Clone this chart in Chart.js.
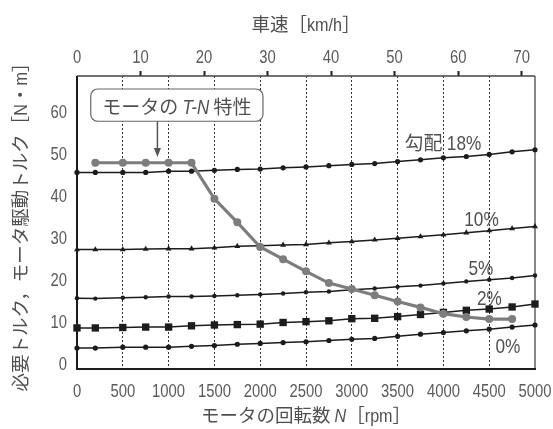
<!DOCTYPE html>
<html>
<head>
<meta charset="utf-8">
<script src="https://cdn.jsdelivr.net/npm/chart.js@4.4.0/dist/chart.umd.min.js"></script>
<style>
 html, body { margin: 0; padding: 0; background: #fff; }
</style>
</head>
<body>
<canvas id="torqueChart" width="553" height="429"></canvas>
<script>
'use strict';

// motor speed [rpm] where the road-load curves are sampled
var rpm = [0, 200, 500, 750, 1000, 1250, 1500, 1750, 2000, 2250, 2500,
           2750, 3000, 3250, 3500, 3750, 4000, 4250, 4500, 4750, 5000];

// required torque [N·m] for each road gradient
var grade18 = [45.4, 45.4, 45.4, 45.4, 45.7, 45.7, 45.9, 46.1, 46.2, 46.5, 46.7,
               47.0, 47.3, 47.5, 48.0, 48.4, 48.9, 49.2, 49.7, 50.3, 50.8];
var grade10 = [27.0, 27.0, 27.0, 27.1, 27.2, 27.2, 27.4, 27.8, 27.9, 28.1, 28.2,
               28.6, 28.9, 29.3, 29.7, 30.1, 30.5, 31.0, 31.5, 32.0, 32.5];
var grade5  = [15.4, 15.3, 15.5, 15.6, 15.8, 15.8, 15.9, 16.1, 16.3, 16.5, 16.8,
               17.0, 17.4, 17.7, 18.1, 18.4, 18.9, 19.4, 19.8, 20.2, 20.8];
var grade2  = [8.3, 8.3, 8.4, 8.5, 8.5, 8.8, 9.0, 9.1, 9.2, 9.6, 9.8,
               10.0, 10.5, 10.6, 11.0, 11.5, 12.0, 12.5, 12.8, 13.3, 14.0];
var grade0  = [3.5, 3.5, 3.7, 3.7, 3.7, 3.9, 4.1, 4.4, 4.6, 4.8, 5.0,
               5.3, 5.6, 5.8, 6.3, 6.8, 7.2, 7.6, 8.0, 8.5, 9.0];

// motor T-N characteristic
var motorRpm    = [200, 500, 750, 1000, 1250, 1500, 1750, 2000, 2250, 2500,
                   2750, 3000, 3250, 3500, 3750, 4000, 4250, 4500, 4750];
var motorTorque = [47.7, 47.7, 47.7, 47.7, 47.7, 39.1, 33.5, 27.6, 24.7, 21.8,
                   19.0, 17.6, 16.1, 14.6, 13.2, 11.7, 10.9, 10.4, 10.4];

// tick labels
var rpmTicks    = [0, 500, 1000, 1500, 2000, 2500, 3000, 3500, 4000, 4500, 5000];
var speedTicks  = [0, 10, 20, 30, 40, 50, 60, 70];
var torqueTicks = [0, 10, 20, 30, 40, 50, 60];

var gradeNames = ['18%', '10%', '5%', '2%', '0%'];

var JP = "'Noto Sans CJK JP', sans-serif";
var LAT = "'Liberation Sans', Arial, sans-serif";
var NARROW = 0.78;          // horizontal squeeze for the condensed digits
var INK = '#1c1c1c';
var TEXT = '#505050';

function pts(xs, ys) {
  return xs.map(function (x, i) { return {x: x, y: ys[i]}; });
}

function gradeSet(values, style, radius) {
  return {
    data: pts(rpm, values),
    borderColor: INK,
    backgroundColor: INK,
    borderWidth: 1.5,
    pointStyle: style,
    pointRadius: radius,
    pointBorderWidth: 0,
    tension: 0,
    clip: false
  };
}

// runs: [text, font, xscale]; align 'center' or 'right'
function drawRuns(ctx, runs, x0, baseline, align) {
  var total = 0;
  runs.forEach(function (r) {
    ctx.font = r[1];
    r.w = ctx.measureText(r[0]).width * (r[2] || 1);
    total += r.w;
  });
  var x = align === 'right' ? x0 - total : x0 - total / 2;
  ctx.textAlign = 'left';
  ctx.textBaseline = 'alphabetic';
  runs.forEach(function (r) {
    ctx.save();
    ctx.translate(x, baseline);
    ctx.scale(r[2] || 1, 1);
    ctx.font = r[1];
    ctx.fillText(r[0], 0, 0);
    ctx.restore();
    x += r.w;
  });
}

var decorations = {
  id: 'decorations',
  beforeDatasetsDraw: function (chart) {
    var ctx = chart.ctx, a = chart.chartArea;
    ctx.save();
    ctx.strokeStyle = '#888';
    ctx.lineWidth = 2;
    ctx.beginPath(); ctx.moveTo(a.right, a.top); ctx.lineTo(a.right, a.bottom); ctx.stroke();
    ctx.strokeStyle = '#444';
    ctx.lineWidth = 1.5;
    ctx.beginPath(); ctx.moveTo(a.left, a.top); ctx.lineTo(a.right, a.top); ctx.stroke();
    ctx.strokeStyle = INK;
    ctx.lineWidth = 2;
    ctx.beginPath();
    ctx.moveTo(a.left, a.top); ctx.lineTo(a.left, a.bottom); ctx.lineTo(a.right + 1, a.bottom);
    ctx.stroke();
    ctx.restore();
  },
  afterDraw: function (chart) {
    var ctx = chart.ctx, a = chart.chartArea;
    var xs = chart.scales.x, ys = chart.scales.y, sp = chart.scales.speed;
    var cx = (a.left + a.right) / 2;
    var tf = '19px ' + LAT;
    ctx.save();
    ctx.fillStyle = '#5a5a5a';

    // tick labels, condensed
    xs.ticks.forEach(function (t) {
      drawRuns(ctx, [[String(t.value), tf, NARROW]], xs.getPixelForValue(t.value), a.bottom + 27.5);
    });
    sp.ticks.forEach(function (t) {
      drawRuns(ctx, [[String(t.value), tf, NARROW]], sp.getPixelForValue(t.value), a.top - 13);
    });
    ys.ticks.forEach(function (t) {
      drawRuns(ctx, [[String(t.value), tf, NARROW]], a.left - 10, ys.getPixelForValue(t.value) + 7, 'right');
    });

    // axis titles
    ctx.fillStyle = TEXT;
    var jf = '18.5px ' + JP, lf = '19px ' + LAT;
    drawRuns(ctx, [['車速', jf], ['［', jf], ['km/h', lf, 0.85], ['］', jf]], cx, 31);
    drawRuns(ctx, [['モータの回転数 ', jf], ['N', 'italic ' + lf, 0.85], ['［', jf], ['rpm', lf, 0.85], ['］', jf]], cx, 422);
    ctx.save();
    ctx.translate(27, (a.top + a.bottom) / 2);
    ctx.rotate(-Math.PI / 2);
    drawRuns(ctx, [['必要トルク，モータ駆動トルク', jf], ['［', jf], ['N', lf, 0.85], ['・', jf], ['m', lf, 0.85], ['］', jf]], 0, 0);
    ctx.restore();

    // gradient labels
    var labelAt = [[3995, 50.8], [4416, 32.5], [4410, 21.0], [4503, 13.8], [4705, 2.4]];
    var gf = '21px ' + LAT;
    gradeNames.forEach(function (name, i) {
      var runs = [[name, gf, 0.82]];
      if (i === 0) runs = [['勾配 ', '19px ' + JP], [name, gf, 0.82]];
      drawRuns(ctx, runs, xs.getPixelForValue(labelAt[i][0]), ys.getPixelForValue(labelAt[i][1]));
    });

    // callout box for the motor curve
    var bx1 = xs.getPixelForValue(150), bx2 = xs.getPixelForValue(2030);
    var by1 = ys.getPixelForValue(65.3), by2 = ys.getPixelForValue(57.6);
    ctx.strokeStyle = '#666';
    ctx.lineWidth = 1.2;
    ctx.beginPath();
    ctx.roundRect(bx1, by1, bx2 - bx1, by2 - by1, 7);
    ctx.fillStyle = '#fff';
    ctx.fill();
    ctx.stroke();
    ctx.fillStyle = TEXT;
    var bf = '19px ' + JP, bl = '20px ' + LAT;
    drawRuns(ctx, [['モータの ', bf], ['T-N', 'italic ' + bl, 0.85], [' 特性', bf]],
      (bx1 + bx2) / 2, by2 - 7.5);

    var ax = xs.getPixelForValue(878), tip = ys.getPixelForValue(49.1);
    ctx.strokeStyle = '#555';
    ctx.fillStyle = '#555';
    ctx.lineWidth = 1.5;
    ctx.beginPath(); ctx.moveTo(ax, by2); ctx.lineTo(ax, tip - 6); ctx.stroke();
    ctx.beginPath();
    ctx.moveTo(ax, tip); ctx.lineTo(ax - 3.5, tip - 9); ctx.lineTo(ax + 3.5, tip - 9);
    ctx.closePath(); ctx.fill();
    ctx.restore();
  }
};

new Chart('torqueChart', {
  type: 'line',
  data: {
    datasets: [
      {
        data: pts(motorRpm, motorTorque),
        borderColor: '#7d7d7d',
        backgroundColor: '#7d7d7d',
        borderWidth: 3.2,
        pointRadius: 4,
        pointBorderWidth: 0,
        tension: 0,
        clip: false
      },
      gradeSet(grade18, 'circle', 2.6),
      gradeSet(grade10, 'triangle', 3.4),
      gradeSet(grade5, 'circle', 2.2),
      gradeSet(grade2, 'rect', 5.2),
      gradeSet(grade0, 'circle', 2.6)
    ]
  },
  options: {
    responsive: false,
    animation: false,
    events: [],
    layout: {padding: {right: 18}},
    plugins: {legend: {display: false}, tooltip: {enabled: false}},
    scales: {
      x: {
        type: 'linear',
        position: 'bottom',
        min: 0,
        max: 5000,
        afterBuildTicks: function (s) { s.ticks = rpmTicks.map(function (v) { return {value: v}; }); },
        afterFit: function (s) { s.height = 60; },
        ticks: {display: false},
        grid: {
          drawTicks: false,
          lineWidth: 1,
          color: function (c) {
            var v = c.tick && c.tick.value;
            return (v > 0 && v < 5000) ? '#333' : 'rgba(0,0,0,0)';
          }
        },
        border: {display: false, dash: [2, 2]}
      },
      speed: {
        type: 'linear',
        position: 'top',
        min: 0,
        max: 72.1,
        afterBuildTicks: function (s) { s.ticks = speedTicks.map(function (v) { return {value: v}; }); },
        afterFit: function (s) { s.height = 76; },
        ticks: {display: false},
        grid: {
          drawOnChartArea: false,
          drawTicks: true,
          tickLength: 5,
          tickWidth: 2,
          color: 'rgba(0,0,0,0)',
          tickColor: function (c) { return c.tick && c.tick.value > 0 ? INK : 'rgba(0,0,0,0)'; }
        },
        border: {display: false}
      },
      y: {
        type: 'linear',
        min: -1.5,
        max: 68.4,
        afterBuildTicks: function (s) { s.ticks = torqueTicks.map(function (v) { return {value: v}; }); },
        afterFit: function (s) { s.width = 77; },
        ticks: {display: false},
        grid: {display: false},
        border: {display: false}
      }
    }
  },
  plugins: [decorations]
});
</script>
</body>
</html>
